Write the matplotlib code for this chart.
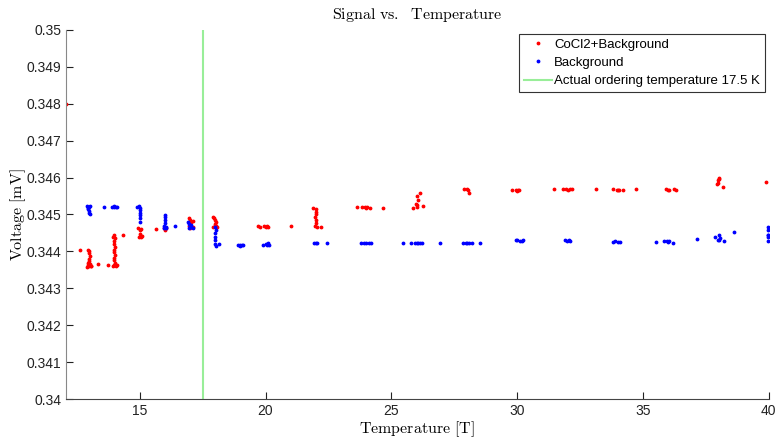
import numpy as np
import matplotlib
matplotlib.use('Agg')
import matplotlib.pyplot as plt

plt.rcParams['font.family'] = ['Liberation Sans', 'DejaVu Sans']
plt.rcParams['mathtext.fontset'] = 'cm'

# CoCl2 + background measurements (temperature, voltage)
sample_T = [12.06, 12.63,
            12.95, 13.0, 12.97, 13.02, 12.98, 13.0, 12.96, 13.03, 12.94, 13.0, 13.05, 12.92, 13.08,
            13.34, 13.74,
            14.0, 13.96, 14.03, 14.0, 13.98, 14.02, 14.0, 13.97, 14.03, 14.0, 13.98, 14.02, 14.0, 13.94, 14.06, 14.1,
            14.35,
            14.95, 15.0, 15.05, 15.0, 14.97, 15.05, 15.1,
            15.65, 15.95, 16.0, 16.05,
            16.95, 17.0, 17.05, 17.12, 16.98, 17.0, 17.1,
            17.92, 17.97, 18.0, 18.03, 17.98, 18.05, 17.9, 18.0, 18.08,
            19.7, 19.78, 19.95, 20.0, 20.05, 20.1,
            21.0,
            21.9, 22.0, 22.0, 22.0, 21.98, 22.02, 22.0, 21.98, 22.03, 22.2,
            23.63, 23.85, 23.95, 24.0, 24.05, 24.15, 24.66,
            25.87, 26.0, 26.15, 26.05, 25.98, 26.0, 26.02, 26.27,
            27.9, 28.0, 28.05, 28.1,
            29.8, 29.95, 30.0, 30.05, 30.08,
            31.47, 31.82, 31.95, 32.0, 32.08, 32.18,
            33.14,
            33.82, 33.95, 34.0, 34.05, 34.2,
            34.72,
            35.93, 36.0, 36.05, 36.25, 36.3,
            37.94, 37.98, 38.0, 38.02, 37.97, 38.18,
            39.9]
sample_V = [0.3480, 0.34404,
            0.34405, 0.34402, 0.34395, 0.34388, 0.3438, 0.34373, 0.34368, 0.34365, 0.34362, 0.3436, 0.34361, 0.34359, 0.3436,
            0.34366, 0.34364,
            0.34445, 0.3444, 0.34435, 0.34428, 0.3442, 0.34412, 0.34405, 0.34398, 0.3439, 0.34383, 0.34376, 0.34369, 0.34362, 0.3436, 0.34361, 0.34362,
            0.34445,
            0.34462, 0.34458, 0.3446, 0.34448, 0.3444, 0.34438, 0.34442,
            0.34461, 0.34462, 0.34458, 0.34463,
            0.3449, 0.34485, 0.3448, 0.34482, 0.3447, 0.34462, 0.34465,
            0.34493, 0.3449, 0.34485, 0.3448, 0.34475, 0.3447, 0.34466, 0.34468, 0.34465,
            0.34468, 0.34466, 0.34468, 0.34466, 0.34468, 0.34467,
            0.34469,
            0.34518, 0.34515, 0.34508, 0.345, 0.34492, 0.34485, 0.34478, 0.3447, 0.34466, 0.34466,
            0.3452, 0.34519, 0.3452, 0.34517, 0.34519, 0.34518, 0.34518,
            0.34518, 0.34551, 0.34557, 0.34539, 0.34528, 0.34525, 0.3452, 0.34523,
            0.34568, 0.34569, 0.34567, 0.34557,
            0.34565, 0.34566, 0.34564, 0.34566, 0.34565,
            0.34569, 0.34568, 0.34568, 0.34567, 0.34568, 0.34568,
            0.34568,
            0.34568, 0.34566, 0.34567, 0.34566, 0.34566,
            0.34568,
            0.3457, 0.34567, 0.34566, 0.34569, 0.34566,
            0.34582, 0.34592, 0.34598, 0.34595, 0.34585, 0.34575,
            0.34587]

# background only
bg_T = [12.92, 12.98, 13.03, 12.96, 13.0, 13.0, 13.02, 12.95,
        13.59,
        13.9, 13.97, 14.0, 14.05, 14.1,
        14.9, 14.97, 15.0, 15.03, 15.0, 15.0, 15.0, 15.0,
        16.0, 16.0, 16.0, 16.0, 15.96, 16.03, 15.98, 16.06,
        16.4,
        16.92, 16.97, 17.0, 17.05, 16.95, 17.1, 17.02,
        18.0, 18.02, 18.0, 18.0, 18.0, 17.98, 18.03, 18.15,
        18.9, 18.97, 19.0, 19.05, 19.1,
        19.9, 20.0, 20.05, 20.1, 20.15,
        21.93, 22.0, 22.05, 22.43,
        23.79, 23.9, 24.0, 24.1, 24.2,
        25.48, 25.79,
        25.95, 26.0, 26.05, 26.12, 26.2,
        26.95,
        27.86, 27.95, 28.0, 28.1, 28.22, 28.53,
        29.97, 30.0, 30.1, 30.2, 30.25,
        31.9, 31.98, 32.05, 32.1,
        33.8, 33.9, 34.0, 34.1,
        35.53, 35.82,
        35.95, 36.0, 36.05, 36.2,
        37.15,
        37.85, 38.0, 37.98, 38.02, 38.05, 38.2,
        38.6,
        39.97, 39.98, 39.96, 39.98, 39.97, 39.95]
bg_V = [0.34522, 0.3452, 0.34522, 0.34515, 0.3451, 0.34505, 0.345, 0.34518,
        0.34521,
        0.3452, 0.34522, 0.34519, 0.34521, 0.3452,
        0.3452, 0.34522, 0.34518, 0.34512, 0.34505, 0.34498, 0.3449, 0.3448,
        0.34499, 0.34492, 0.34485, 0.34478, 0.34468, 0.34466, 0.34462, 0.34463,
        0.34469,
        0.3448, 0.34475, 0.3447, 0.34472, 0.34463, 0.34462, 0.34465,
        0.34466, 0.34458, 0.3445, 0.3444, 0.3443, 0.3442, 0.34414, 0.3442,
        0.34418, 0.34416, 0.34414, 0.34417, 0.34418,
        0.34416, 0.3442, 0.34418, 0.34422, 0.34418,
        0.34423, 0.34422, 0.34424, 0.34423,
        0.34423, 0.34424, 0.34422, 0.34423, 0.34423,
        0.34423, 0.34422,
        0.34424, 0.34422, 0.34424, 0.34423, 0.34423,
        0.34422,
        0.34423, 0.34422, 0.34424, 0.34423, 0.34422, 0.34423,
        0.34432, 0.3443, 0.34429, 0.34429, 0.3443,
        0.3443, 0.34429, 0.34431, 0.34429,
        0.34426, 0.34428, 0.34425, 0.34426,
        0.34426, 0.34429,
        0.34428, 0.34425, 0.34428, 0.34424,
        0.34433,
        0.34438, 0.34444, 0.34431, 0.34432, 0.34435, 0.34429,
        0.34453,
        0.34467, 0.34458, 0.34444, 0.34443, 0.34428, 0.34438]

T_order = 17.5
x_ticks = [15, 20, 25, 30, 35, 40]
y_ticks = [0.34, 0.341, 0.342, 0.343, 0.344, 0.345, 0.346, 0.347, 0.348, 0.349, 0.35]
y_labels = ['0.34', '0.341', '0.342', '0.343', '0.344', '0.345',
            '0.346', '0.347', '0.348', '0.349', '0.35']

fig = plt.figure(figsize=(7.79, 4.41), dpi=100)
ax = fig.add_axes([0.0843, 0.0952, 0.9027, 0.837])

ax.plot(sample_T, sample_V, '.', color='red', ms=3.5, label='CoCl2+Background')
ax.plot(bg_T, bg_V, '.', color='blue', ms=3.5, label='Background')
ax.axvline(T_order, color='#99ee99', lw=1.5, label='Actual ordering temperature 17.5 K')

ax.set_xlim(12.06, 40)
ax.set_ylim(0.34, 0.35)
ax.set_xticks(x_ticks)
ax.set_yticks(y_ticks)
ax.set_yticklabels(y_labels)
ax.tick_params(direction='in', length=5, labelsize=10, colors='#222222')
ax.tick_params(axis='y', pad=3)
for s in ['top', 'right']:
    ax.spines[s].set_visible(False)
ax.spines['left'].set_color('#888888')
ax.spines['bottom'].set_color('#444444')

ax.set_title(r'$\mathrm{Signal\ vs.\ \ Temperature}$', fontsize=11.5, pad=8)
ax.set_xlabel(r'$\mathrm{Temperature\ [T]}$', fontsize=11.5, labelpad=1)
ax.set_ylabel(r'$\mathrm{Voltage\ [mV]}$', fontsize=11.5)
ax.yaxis.set_label_coords(-0.053, 0.5)

leg = ax.legend(loc='upper right', bbox_to_anchor=(0.994, 0.989), borderaxespad=0,
                fontsize=9.5, fancybox=False, framealpha=1, edgecolor='#333333',
                handlelength=2.1, handletextpad=0.2, borderpad=0.35,
                labelspacing=0.45, markerscale=1)
leg.get_frame().set_linewidth(0.8)

fig.savefig('out.png', dpi=100)
